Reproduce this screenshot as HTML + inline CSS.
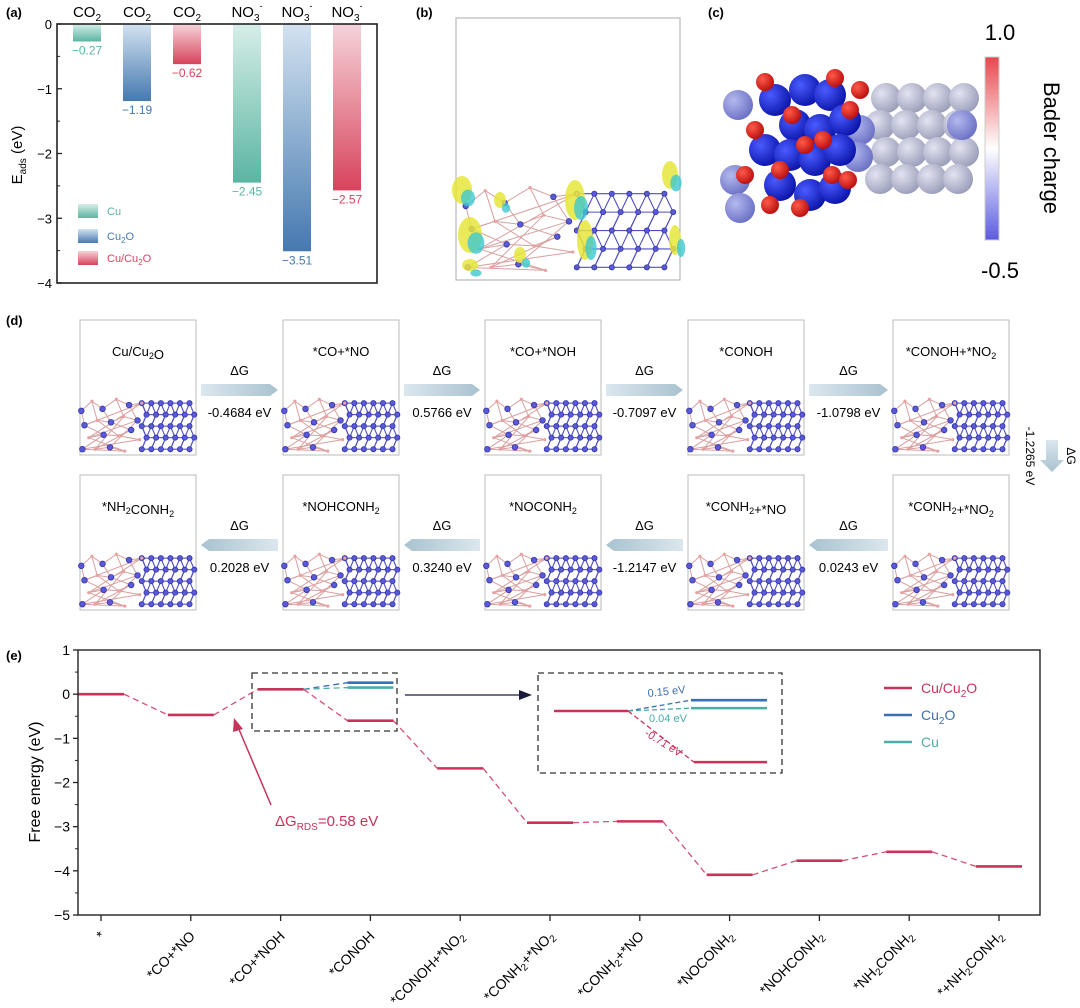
<!DOCTYPE html>
<html><head><meta charset="utf-8">
<style>
html,body{margin:0;padding:0;background:#fff;}
svg{display:block;font-family:"Liberation Sans",Arial,sans-serif;}
</style></head>
<body>
<svg id="fig" width="1080" height="1008" viewBox="0 0 1080 1008" xmlns="http://www.w3.org/2000/svg">
<defs>
<linearGradient id="gCu" x1="0" y1="0" x2="0" y2="1"><stop offset="0" stop-color="#d6eee8"/><stop offset="1" stop-color="#5bb5a2"/></linearGradient>
<linearGradient id="gCu2O" x1="0" y1="0" x2="0" y2="1"><stop offset="0" stop-color="#d3e2f0"/><stop offset="1" stop-color="#4579b0"/></linearGradient>
<linearGradient id="gCuCu2O" x1="0" y1="0" x2="0" y2="1"><stop offset="0" stop-color="#f5d3d9"/><stop offset="1" stop-color="#d8435c"/></linearGradient>
<linearGradient id="gBar" x1="0" y1="0" x2="0" y2="1"><stop offset="0" stop-color="#e8474d"/><stop offset="0.5" stop-color="#ffffff"/><stop offset="1" stop-color="#5a5ce0"/></linearGradient>
<linearGradient id="gArrR" x1="0" y1="0" x2="1" y2="0"><stop offset="0" stop-color="#dbe7ee"/><stop offset="1" stop-color="#a9c2d0"/></linearGradient>
<linearGradient id="gArrL" x1="1" y1="0" x2="0" y2="0"><stop offset="0" stop-color="#dbe7ee"/><stop offset="1" stop-color="#a9c2d0"/></linearGradient>
<linearGradient id="gArrD" x1="0" y1="0" x2="0" y2="1"><stop offset="0" stop-color="#dbe7ee"/><stop offset="1" stop-color="#a9c2d0"/></linearGradient>
<radialGradient id="sBlue" cx="0.35" cy="0.35" r="0.7"><stop offset="0" stop-color="#4a5cff"/><stop offset="1" stop-color="#0a13a8"/></radialGradient>
<radialGradient id="sLav" cx="0.35" cy="0.35" r="0.7"><stop offset="0" stop-color="#b4b9ee"/><stop offset="1" stop-color="#6a70c4"/></radialGradient>
<radialGradient id="sGrey" cx="0.35" cy="0.35" r="0.7"><stop offset="0" stop-color="#e2e4f2"/><stop offset="1" stop-color="#9a9db8"/></radialGradient>
<radialGradient id="sRed" cx="0.35" cy="0.35" r="0.7"><stop offset="0" stop-color="#ff5a4a"/><stop offset="1" stop-color="#b80e0e"/></radialGradient>
</defs>
<g id="pa"></g>
<g id="pb"></g>
<g id="pc"></g>
<g id="pd"></g>
<g id="pe"></g>
</svg>
<script>
// ---------- Panel (a) data ----------
const adsCategories = ["CO2","CO2","CO2","NO3-","NO3-","NO3-"];
const adsValues = [-0.27,-1.19,-0.62,-2.45,-3.51,-2.57];
const adsSeries = ["Cu","Cu2O","CuCu2O","Cu","Cu2O","CuCu2O"];
const adsTicks = [0,-1,-2,-3,-4];
// ---------- Panel (e) data ----------
const feSteps = ["*","*CO+*NO","*CO+*NOH","*CONOH","*CONOH+*NO2","*CONH2+*NO2","*CONH2+*NO","*NOCONH2","*NOHCONH2","*NH2CONH2","*+NH2CONH2"];
const feCuCu2O = [0,-0.47,0.11,-0.60,-1.68,-2.91,-2.88,-4.09,-3.77,-3.57,-3.90];
const feCu2OStep = [0.26];
const feCuStep = [0.15];
const feTicks = [1,0,-1,-2,-3,-4,-5];

const NS="http://www.w3.org/2000/svg";
function mk(parent,tag,attrs,text){const e=document.createElementNS(NS,tag);for(const k in attrs)e.setAttribute(k,attrs[k]);if(text!==undefined)e.textContent=text;parent.appendChild(e);return e;}

// ===== Panel (a) =====
(function(){
const g=document.getElementById('pa');
const L=57,R=377,T=24,B=283;
const yA=v=>T+(0-v)/4*(B-T);
const xA=i=>87+i*50+(i>=3?10:0);
const colors={Cu:"#5bb5a2",Cu2O:"#4579b0",CuCu2O:"#d8435c"};
const lbl=mk(g,'text',{x:6,y:17,'font-size':13,'font-weight':'bold'},'(a)');


adsValues.forEach((v,i)=>{
  const s=adsSeries[i];
  const r=mk(g,'rect',{x:xA(i)-14,y:yA(0),width:28,height:yA(v)-yA(0),fill:'url(#g'+s+')'});
  
  
  const t=mk(g,'text',{x:xA(i),y:yA(v)+13,'font-size':12,'text-anchor':'middle',fill:colors[s]},'−'+Math.abs(v).toFixed(2));
  
  
  const c=mk(g,'text',{x:xA(i),y:17,'font-size':15,'text-anchor':'middle'});
  
  
  if(adsCategories[i]==="CO2"){c.textContent="CO";mk(c,'tspan',{'font-size':10,dy:4},'2');}
  else{c.textContent="NO";mk(c,'tspan',{'font-size':10,dy:4},'3');mk(c,'tspan',{'font-size':9,dy:-12},'-');}
});
const fr=mk(g,'rect',{x:L,y:T,width:R-L,height:B-T,fill:'none',stroke:'#222','stroke-width':1.6});


adsTicks.forEach(v=>{
  mk(g,'line',{x1:L,x2:L+5,y1:yA(v),y2:yA(v),stroke:'#222','stroke-width':1.3});
  const t=mk(g,'text',{x:L-5,y:yA(v)+5,'font-size':13,'text-anchor':'end'},v===0?'0':'−'+Math.abs(v));
  
  
});
[-0.5,-1.5,-2.5,-3.5].forEach(v=>mk(g,'line',{x1:L,x2:L+3,y1:yA(v),y2:yA(v),stroke:'#222'}));
const yt=mk(g,'text',{transform:'translate(22,155) rotate(-90)','font-size':15,'text-anchor':'middle'},'E');
mk(yt,'tspan',{'font-size':10,dy:4},'ads');mk(yt,'tspan',{dy:-4},' (eV)');


[["Cu","Cu",210],["Cu2O","Cu2O",235],["CuCu2O","Cu/Cu2O",257]].forEach(([k,n,y])=>{
  const le=mk(g,'g',{});
  
  
  mk(le,'rect',{x:78,y:y-6,width:20,height:14,fill:'url(#g'+k+')'});
  const t=mk(le,'text',{x:107,y:y+5,'font-size':11,fill:colors[k]});
  if(n==="Cu")t.textContent="Cu";else if(n==="Cu2O"){t.textContent="Cu";mk(t,'tspan',{'font-size':8,dy:3},'2');mk(t,'tspan',{dy:-3},'O');}
  else{t.textContent="Cu/Cu";mk(t,'tspan',{'font-size':8,dy:3},'2');mk(t,'tspan',{dy:-3},'O');}
});
})();

// ===== slab drawing helper =====
function slab(g,x0,y0,w,h){
  const sx=w/115, sy=h/75;
  const amorph=[[5,30],[15,20],[25,28],[38,18],[50,24],[62,22],[8,45],[20,40],[33,42],[45,36],[58,40],[12,58],[26,55],[40,56],[52,50],[18,70],[32,68],[46,72],[6,70],[60,60]];
  const og=mk(g,'g',{stroke:'#d9a0a0','stroke-width':1,fill:'none'});
  for(let i=0;i<amorph.length-1;i++){const a=amorph[i],b=amorph[i+1];mk(og,'line',{x1:x0+a[0]*sx,y1:y0+a[1]*sy,x2:x0+b[0]*sx,y2:y0+b[1]*sy});}
  for(let i=0;i<amorph.length-6;i++){const a=amorph[i],b=amorph[i+6];mk(og,'line',{x1:x0+a[0]*sx,y1:y0+a[1]*sy,x2:x0+b[0]*sx,y2:y0+b[1]*sy});}
  const lg=mk(g,'g',{stroke:'#4f4fc0','stroke-width':1.1});
  const pts=[];
  for(let r=0;r<5;r++)for(let c=0;c<6;c++){pts.push([62+c*9+(r%2)*4.5,22+r*12]);}
  for(let r=0;r<5;r++)for(let c=0;c<6;c++){const p=pts[r*6+c];
    if(c<5){const q=pts[r*6+c+1];mk(lg,'line',{x1:x0+p[0]*sx,y1:y0+p[1]*sy,x2:x0+q[0]*sx,y2:y0+q[1]*sy});}
    if(r<4){const q=pts[(r+1)*6+c];mk(lg,'line',{x1:x0+p[0]*sx,y1:y0+p[1]*sy,x2:x0+q[0]*sx,y2:y0+q[1]*sy});
      const q2=pts[(r+1)*6+Math.max(0,c-(r%2?0:1))];mk(lg,'line',{x1:x0+p[0]*sx,y1:y0+p[1]*sy,x2:x0+q2[0]*sx,y2:y0+q2[1]*sy});}
  }
  const ag=mk(g,'g',{fill:'#5a5ad8',stroke:'#3434a8','stroke-width':0.8});
  amorph.forEach((p,i)=>{ if(i%2===0) mk(ag,'circle',{cx:x0+p[0]*sx,cy:y0+p[1]*sy,r:2.8}); else mk(g,'circle',{cx:x0+p[0]*sx,cy:y0+p[1]*sy,r:1.6,fill:'#e8a0a0'});});
  pts.forEach(p=>mk(ag,'circle',{cx:x0+p[0]*sx,cy:y0+p[1]*sy,r:2.6}));
}

// ===== Panel (b) =====
(function(){
const g=document.getElementById('pb');
const t=mk(g,'text',{x:416,y:17,'font-size':13,'font-weight':'bold'},'(b)');


mk(g,'rect',{x:456,y:18,width:224,height:262,fill:'none',stroke:'#aaa','stroke-width':1});
slab(g,456,160,224,115);
[[462,190,10,14],[470,235,12,18],[575,200,10,20],[585,240,8,20],[670,175,8,14],[675,240,6,15],[500,200,6,8],[520,255,6,8],[470,265,8,6]].forEach(([x,y,rx,ry])=>{
  mk(g,'ellipse',{cx:x,cy:y,rx:rx,ry:ry,fill:'#e6e53a',opacity:0.85});
  mk(g,'ellipse',{cx:x+6,cy:y+8,rx:rx*0.7,ry:ry*0.6,fill:'#3cc8cf',opacity:0.8});
});
})();

// ===== Panel (c) =====
(function(){
const g=document.getElementById('pc');
const t=mk(g,'text',{x:708,y:17,'font-size':13,'font-weight':'bold'},'(c)');


for(let r=0;r<4;r++)for(let c=0;c<4;c++)mk(g,'circle',{cx:886+c*26-(r%2)*6,cy:98+r*27,r:15,fill:'url(#sGrey)'});
mk(g,'circle',{cx:962,cy:125,r:15,fill:'url(#sLav)'});
[[738,105],[735,180],[740,208],[860,130],[858,157]].forEach(p=>mk(g,'circle',{cx:p[0],cy:p[1],r:15,fill:'url(#sLav)'}));
[[775,100],[805,90],[830,95],[795,125],[820,130],[845,120],[765,150],[790,155],[815,160],[840,150],[780,185],[810,195],[835,188]].forEach(p=>mk(g,'circle',{cx:p[0],cy:p[1],r:16,fill:'url(#sBlue)'}));
[[765,82],[835,78],[792,115],[755,130],[850,110],[823,140],[780,170],[805,145],[745,175],[770,205],[800,208],[832,175],[848,180],[860,90]].forEach(p=>mk(g,'circle',{cx:p[0],cy:p[1],r:9,fill:'url(#sRed)'}));
const cb=mk(g,'rect',{x:985,y:57,width:14,height:183,fill:'url(#gBar)',stroke:'#ccc'});


const a=mk(g,'text',{x:1000,y:40,'font-size':22,'text-anchor':'middle'},'1.0');


const b=mk(g,'text',{x:1000,y:278,'font-size':22,'text-anchor':'middle'},'-0.5');


const c=mk(g,'text',{transform:'translate(1044,148) rotate(90)','font-size':22,'text-anchor':'middle'},'Bader charge');


})();

// ===== Panel (d) =====
(function(){
const g=document.getElementById('pd');
const t=mk(g,'text',{x:6,y:325,'font-size':13,'font-weight':'bold'},'(d)');


const bx=[80,283,485,688,893];
const titles1=[["Cu/Cu",["2"],"O"],["*CO+*NO"],["*CO+*NOH"],["*CONOH"],["*CONOH+*NO",["2"]]];
const titles2=[["*NH",["2"],"CONH",["2"]],["*NOHCONH",["2"]],["*NOCONH",["2"]],["*CONH",["2"],"+*NO"],["*CONH",["2"],"+*NO",["2"]]];
const v1=["-0.4684 eV","0.5766 eV","-0.7097 eV","-1.0798 eV"];
const v2=["0.2028 eV","0.3240 eV","-1.2147 eV","0.0243 eV"];
function title(y,x,parts){const te=mk(g,'text',{x:x,y:y,'font-size':13,'text-anchor':'middle'});
  
  
  parts.forEach(p=>{if(Array.isArray(p)){mk(te,'tspan',{'font-size':9,dy:3},p[0]);mk(te,'tspan',{dy:-3},'');}else mk(te,'tspan',{},p);});}
[[320,titles1,v1,1],[475,titles2,v2,-1]].forEach(([y0,tt,vv,dir])=>{
  bx.forEach((x,i)=>{
    const box=mk(g,'rect',{x:x,y:y0,width:116,height:135,fill:'#fff',stroke:'#bbb'});
    
    
    slab(g,x-4,y0+62,122,72);
    title(y0+36,x+58,tt[i]);
  });
  for(let i=0;i<4;i++){
    const x1=bx[i]+121,x2=bx[i+1]-5,ya=y0+70;
    const ar=mk(g,'polygon',{points:dir>0?`${x1},${ya-6} ${x2-8},${ya-6} ${x2},${ya} ${x2-8},${ya+6} ${x1},${ya+6}`:`${x2},${ya-6} ${x1+8},${ya-6} ${x1},${ya} ${x1+8},${ya+6} ${x2},${ya+6}`,fill:dir>0?'url(#gArrR)':'url(#gArrL)'});
    
    
    const dg=mk(g,'text',{x:(x1+x2)/2,y:y0+55,'font-size':13,'text-anchor':'middle'},'ΔG');
    
    
    const vt=mk(g,'text',{x:(x1+x2)/2,y:y0+97,'font-size':13,'text-anchor':'middle'},vv[i]);
    
    
  }
});
const va=mk(g,'polygon',{points:'1046,440 1058,440 1058,460 1064,460 1052,472 1040,460 1046,460',fill:'url(#gArrD)'});


const vg=mk(g,'text',{transform:'translate(1067,456) rotate(90)','font-size':12,'text-anchor':'middle'},'ΔG');


const vv=mk(g,'text',{transform:'translate(1026,456) rotate(90)','font-size':12,'text-anchor':'middle'},'-1.2265 eV');


})();

// ===== Panel (e) =====
(function(){
const g=document.getElementById('pe');
const L=78,R=1040,T=650,B=915;
const yS=v=>T+(1-v)/6*(B-T);
const xS=i=>101+i*89.8;
const red="#c8335a",blue="#3a6fb0",cyan="#4aaea8";
const hw=23;
const lab=mk(g,'text',{x:6,y:660,'font-size':13,'font-weight':'bold'},'(e)');


for(let i=0;i<feCuCu2O.length-1;i++){
  const c=mk(g,'line',{x1:xS(i)+hw,y1:yS(feCuCu2O[i]),x2:xS(i+1)-hw,y2:yS(feCuCu2O[i+1]),stroke:red,'stroke-width':1.3,'stroke-dasharray':'6,4',opacity:0.85});
  
  
}
mk(g,'line',{x1:xS(2)+hw,y1:yS(feCuCu2O[2]),x2:xS(3)-hw,y2:yS(feCu2OStep[0]),stroke:blue,'stroke-width':1.3,'stroke-dasharray':'6,4'});
mk(g,'line',{x1:xS(2)+hw,y1:yS(feCuCu2O[2]),x2:xS(3)-hw,y2:yS(feCuStep[0]),stroke:cyan,'stroke-width':1.3,'stroke-dasharray':'6,4'});
feCuCu2O.forEach((v,i)=>{
  const l=mk(g,'line',{x1:Math.max(L,xS(i)-hw),x2:Math.min(R,xS(i)+hw),y1:yS(v),y2:yS(v),stroke:red,'stroke-width':2.6});
  
  
});
const lb=mk(g,'line',{x1:xS(3)-hw,x2:xS(3)+hw,y1:yS(feCu2OStep[0]),y2:yS(feCu2OStep[0]),stroke:blue,'stroke-width':2.6});


const lc=mk(g,'line',{x1:xS(3)-hw,x2:xS(3)+hw,y1:yS(feCuStep[0]),y2:yS(feCuStep[0]),stroke:cyan,'stroke-width':2.6});


const fr=mk(g,'rect',{x:L,y:T,width:R-L,height:B-T,fill:'none',stroke:'#222','stroke-width':1.4});


feTicks.forEach(v=>{
  mk(g,'line',{x1:L,x2:L-5,y1:yS(v),y2:yS(v),stroke:'#222','stroke-width':1.3});
  const t=mk(g,'text',{x:L-8,y:yS(v)+5,'font-size':14,'text-anchor':'end'},v<0?'−'+Math.abs(v):String(v));
  
  
});
for(let k=0;k<6;k++)mk(g,'line',{x1:L,x2:L-3,y1:yS(0.5-k),y2:yS(0.5-k),stroke:'#222'});
const yt=mk(g,'text',{transform:'translate(40,782) rotate(-90)','font-size':16,'text-anchor':'middle'},'Free energy (eV)');


feSteps.forEach((s,i)=>{
  mk(g,'line',{x1:xS(i),x2:xS(i),y1:B,y2:B+6,stroke:'#222','stroke-width':1.3});
  const t=mk(g,'text',{transform:`translate(${xS(i)+5},${B+22}) rotate(-45)`,'font-size':14,'text-anchor':'end'});
  
  
  s.split(/(\d)/).forEach(p=>{ if(/\d/.test(p)){mk(t,'tspan',{'font-size':10,dy:3},p);} else if(p){mk(t,'tspan',{dy:t.childNodes.length&&/\d/.test(t.lastChild.textContent)?-3:0},p);} });
});
const db=mk(g,'rect',{x:252,y:673,width:145,height:58,fill:'none',stroke:'#333','stroke-width':1.3,'stroke-dasharray':'6,4'});


const arr=mk(g,'line',{x1:405,y1:695,x2:522,y2:695,stroke:'#1a1a3a','stroke-width':1.3});


mk(g,'polygon',{points:'532,695 519,690 519,700',fill:'#1a1a3a'});
const ib=mk(g,'rect',{x:538,y:673,width:244,height:100,fill:'none',stroke:'#333','stroke-width':1.3,'stroke-dasharray':'6,4'});


const iy=v=>711-(v-feCuCu2O[2])*72;
mk(g,'line',{x1:554,x2:628,y1:iy(feCuCu2O[2]),y2:iy(feCuCu2O[2]),stroke:red,'stroke-width':2.6});
mk(g,'line',{x1:628,y1:iy(feCuCu2O[2]),x2:691,y2:iy(feCu2OStep[0]),stroke:blue,'stroke-width':1.3,'stroke-dasharray':'5,3'});
mk(g,'line',{x1:628,y1:iy(feCuCu2O[2]),x2:691,y2:iy(feCuStep[0]),stroke:cyan,'stroke-width':1.3,'stroke-dasharray':'5,3'});
mk(g,'line',{x1:628,y1:iy(feCuCu2O[2]),x2:694,y2:iy(feCuCu2O[3]),stroke:red,'stroke-width':1.3,'stroke-dasharray':'5,3'});
mk(g,'line',{x1:691,x2:767,y1:iy(feCu2OStep[0]),y2:iy(feCu2OStep[0]),stroke:blue,'stroke-width':2.6});
mk(g,'line',{x1:691,x2:767,y1:iy(feCuStep[0]),y2:iy(feCuStep[0]),stroke:cyan,'stroke-width':2.6});
mk(g,'line',{x1:694,x2:767,y1:iy(feCuCu2O[3]),y2:iy(feCuCu2O[3]),stroke:red,'stroke-width':2.6});
const l1=mk(g,'text',{x:648,y:697,'font-size':11,fill:blue,transform:'rotate(-6 648 697)'},'0.15 eV');


const l2=mk(g,'text',{x:649,y:722,'font-size':11,fill:cyan},'0.04 eV');


const l3=mk(g,'text',{x:644,y:735,'font-size':11,fill:red,transform:'rotate(32 644 735)'},'-0.71 eV');


const ra=mk(g,'line',{x1:271,y1:805,x2:238,y2:727,stroke:red,'stroke-width':1.5});


mk(g,'polygon',{points:'234,718 243,729 233,732',fill:red});
const rt=mk(g,'text',{x:275,y:826,'font-size':15,fill:red},'ΔG');
mk(rt,'tspan',{'font-size':10,dy:4},'RDS');mk(rt,'tspan',{dy:-4},'=0.58 eV');


[["Cu/Cu","2","O",red,688],["Cu","2","O",blue,715],["Cu","","",cyan,742]].forEach(([a,s,b,col,y])=>{
  const le=mk(g,'g',{});
  
  
  mk(le,'line',{x1:884,x2:912,y1:y,y2:y,stroke:col,'stroke-width':2.6});
  const t=mk(le,'text',{x:921,y:y+5,'font-size':14,fill:col},a);
  if(s){mk(t,'tspan',{'font-size':10,dy:4},s);mk(t,'tspan',{dy:-4},b);}
});
})();
</script>
</body></html>
